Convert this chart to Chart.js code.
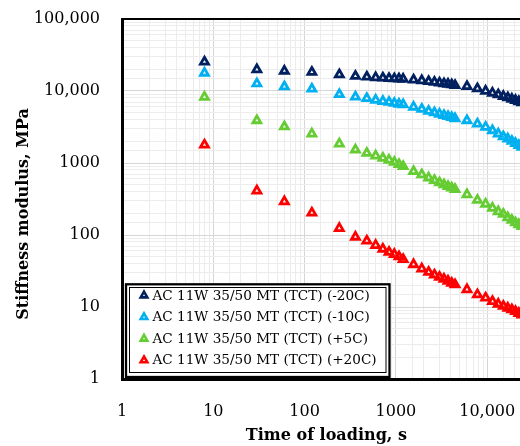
<!DOCTYPE html>
<html>
<head>
<meta charset="utf-8">
<script src="https://cdn.jsdelivr.net/npm/chart.js@4.4.1/dist/chart.umd.min.js"></script>
<style>
  html, body { margin: 0; padding: 0; background: #fff; overflow: hidden; }
  #wrap { width: 540px; height: 446px; }
</style>
</head>
<body>
<div id="wrap"><canvas id="chart" width="540" height="446"></canvas></div>
<script>
// time of loading, s
const loadingTimes = [8, 30, 60, 120,
  240, 360, 480, 600, 720, 840, 960, 1080, 1200,
  1560, 1920, 2280, 2640, 3000, 3360, 3720, 4080, 4440,
  6000, 7800, 9600, 11400, 13200, 15000, 16800, 18600, 20400, 22200, 24000];

// stiffness modulus, MPa
const stiffMinus20 = [25400, 19900, 19000, 18300,
  16900, 16100, 15700, 15400, 15200, 15000, 14900, 14800, 14700,
  14300, 14000, 13600, 13300, 13000, 12700, 12500, 12300, 12000,
  11600, 10800, 10000, 9400, 8900, 8450, 8100, 7750, 7450, 7150, 6900];
const stiffMinus10 = [17800, 12700, 11500, 10700,
  9000, 8300, 7900, 7500, 7200, 7000, 6800, 6600, 6500,
  6000, 5600, 5250, 5000, 4800, 4600, 4450, 4300, 4150,
  3900, 3500, 3150, 2830, 2550, 2330, 2170, 2010, 1880, 1760, 1660];
const stiffPlus5 = [8250, 3900, 3200, 2550,
  1850, 1530, 1370, 1260, 1170, 1100, 1030, 960, 900,
  765, 690, 625, 575, 535, 500, 475, 452, 432,
  365, 305, 270, 237, 212, 195, 175, 161, 149, 140, 132];
const stiffPlus20 = [1790, 412, 292, 203,
  124, 94, 83, 72, 64, 58, 54, 50, 46,
  39, 34, 30.5, 28, 26, 24.5, 23, 21.5, 20.5,
  17.5, 14.9, 13.4, 12, 11, 10.3, 9.7, 9.2, 8.7, 8.2, 7.8];

const seriesLabels = ['AC 11W 35/50 MT (TCT) (-20C)', 'AC 11W 35/50 MT (TCT) (-10C)',
  'AC 11W 35/50 MT (TCT) (+5C)', 'AC 11W 35/50 MT (TCT) (+20C)'];
const seriesColors = ['#002060', '#00B0F0', '#66CC33', '#FF0000'];

const xTickValues = [1, 10, 100, 1000, 10000];
const xTickLabels = ['1', '10', '100', '1000', '10,000'];
const yTickValues = [1, 10, 100, 1000, 10000, 100000];
const yTickLabels = ['1', '10', '100', '1000', '10,000', '100,000'];

const FONT = 'DejaVu Serif';

const toPoints = (ys) => loadingTimes.map((t, i) => ({ x: t, y: ys[i] }));

const makeDataset = (label, ys, color) => ({
    label: label,
    data: toPoints(ys),
    showLine: false,
    pointStyle: 'triangle',
    pointRadius: 4.6,
    pointBorderWidth: 2.8,
    pointBackgroundColor: 'rgba(0,0,0,0)',
    pointBorderColor: color,
    borderColor: color,
    backgroundColor: 'rgba(0,0,0,0)'
});

const gridColor = (majors) => (c) => {
    if (!c.tick) return '#e0e0e0';
    return majors.includes(c.tick.value) ? '#d6d6d6' : '#ececec';
};

// top frame line + boxed legend + rotated y title
const extrasPlugin = {
    id: 'extras',
    afterDraw(chart) {
        const { ctx, chartArea } = chart;
        ctx.save();
        ctx.strokeStyle = '#000';
        ctx.lineWidth = 2;
        ctx.beginPath();
        ctx.moveTo(chartArea.left, chartArea.top);
        ctx.lineTo(chartArea.right, chartArea.top);
        ctx.lineTo(chartArea.right, chartArea.bottom);
        ctx.stroke();

        // legend
        const bx = 126, by = 284.3, bw = 263.5, bh = 92.7;
        ctx.fillStyle = '#fff';
        ctx.fillRect(bx, by, bw, bh);
        ctx.lineWidth = 2.3;
        ctx.strokeRect(bx, by, bw, bh);
        ctx.lineWidth = 1;
        ctx.strokeRect(129.5, 287.5, 256.5, 85);
        ctx.font = '13.6px "' + FONT + '"';
        ctx.textBaseline = 'middle';
        ctx.textAlign = 'left';
        chart.data.datasets.forEach((ds, i) => {
            const yRow = 295.5 + i * 21.6;
            ctx.strokeStyle = seriesColors[i];
            ctx.fillStyle = '#fff';
            ctx.lineWidth = 2.6;
            Chart.helpers.drawPoint(ctx, { pointStyle: 'triangle', radius: 3.8, borderWidth: 2.6, rotation: 0 }, 144, yRow);
            ctx.fillStyle = '#000';
            ctx.fillText(ds.label, 152.5, yRow + 0.5);
        });

        // y axis title
        ctx.translate(24, 214);
        ctx.rotate(-Math.PI / 2);
        ctx.font = 'bold 16px "' + FONT + '"';
        ctx.textAlign = 'center';
        ctx.fillStyle = '#000';
        ctx.fillText('Stiffness modulus, MPa', 0, 0);
        ctx.restore();
    }
};

new Chart(document.getElementById('chart'), {
    type: 'scatter',
    data: {
        datasets: [
            makeDataset(seriesLabels[0], stiffMinus20, seriesColors[0]),
            makeDataset(seriesLabels[1], stiffMinus10, seriesColors[1]),
            makeDataset(seriesLabels[2], stiffPlus5, seriesColors[2]),
            makeDataset(seriesLabels[3], stiffPlus20, seriesColors[3])
        ]
    },
    options: {
        responsive: false,
        animation: false,
        layout: { padding: { left: 0, top: 19, right: 9.2, bottom: 0 } },
        scales: {
            x: {
                type: 'logarithmic',
                min: 1,
                max: 30000,
                afterFit: (s) => { s.height = 67; s.paddingLeft = 0; s.paddingRight = 0; },
                border: { color: '#000', width: 3 },
                grid: { color: gridColor(xTickValues), lineWidth: 1, drawTicks: false },
                ticks: {
                    padding: 23,
                    autoSkip: false,
                    maxRotation: 0,
                    color: '#000',
                    font: { family: FONT, size: 16 },
                    callback: (v) => {
                        const k = xTickValues.indexOf(v);
                        return k >= 0 ? xTickLabels[k] : '';
                    }
                },
                title: {
                    display: true,
                    text: 'Time of loading, s',
                    color: '#000',
                    font: { family: FONT, size: 16, weight: 'bold' },
                    padding: { top: 0, bottom: 1 }
                }
            },
            y: {
                type: 'logarithmic',
                min: 1,
                max: 100000,
                afterFit: (s) => { s.width = 122; s.paddingTop = 0; s.paddingBottom = 0; },
                border: { color: '#000', width: 3 },
                grid: { color: gridColor(yTickValues), lineWidth: 1, drawTicks: false },
                ticks: {
                    padding: 22,
                    autoSkip: false,
                    color: '#000',
                    font: { family: FONT, size: 16 },
                    callback: (v) => {
                        const k = yTickValues.indexOf(v);
                        return k >= 0 ? yTickLabels[k] : '';
                    }
                }
            }
        },
        plugins: {
            legend: { display: false },
            tooltip: { enabled: false }
        }
    },
    plugins: [extrasPlugin]
});
</script>
</body>
</html>
